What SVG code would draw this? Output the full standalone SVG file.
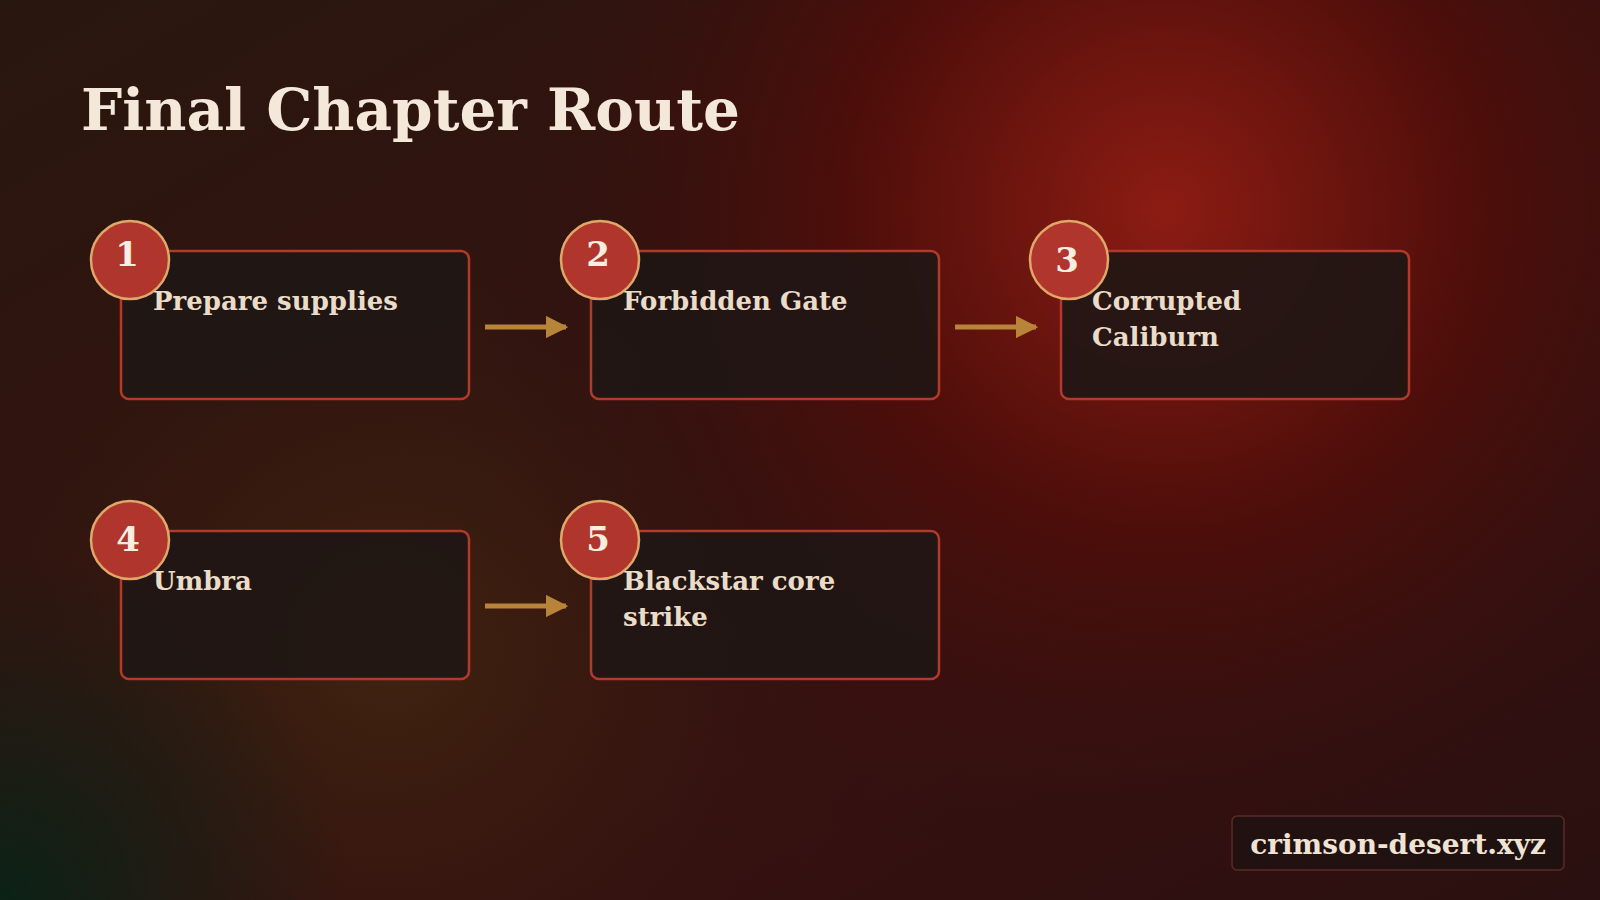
<svg xmlns="http://www.w3.org/2000/svg" width="1600" height="900" viewBox="0 0 1600 900">
<defs>
<radialGradient id="g1" cx="1165" cy="210" r="700" gradientUnits="userSpaceOnUse">
<stop offset="0" stop-color="#8c1c13"/><stop offset="0.45" stop-color="#4e0e0a"/><stop offset="1" stop-color="#2a1210" stop-opacity="0"/>
</radialGradient>
<radialGradient id="g2" cx="390" cy="650" r="500" gradientUnits="userSpaceOnUse">
<stop offset="0" stop-color="#41240f"/><stop offset="1" stop-color="#2a1510" stop-opacity="0"/>
</radialGradient>
<radialGradient id="g3" cx="0" cy="900" r="350" gradientUnits="userSpaceOnUse">
<stop offset="0" stop-color="#0b2216"/><stop offset="1" stop-color="#0b2216" stop-opacity="0"/>
</radialGradient>
<linearGradient id="bg" x1="0" y1="0" x2="1" y2="1">
<stop offset="0" stop-color="#28170e"/><stop offset="0.6" stop-color="#3a1010"/><stop offset="1" stop-color="#2a1010"/>
</linearGradient>
<marker id="ah" viewBox="0 0 10 10" refX="9" refY="5" markerWidth="4.5" markerHeight="4.5" orient="auto" markerUnits="strokeWidth"><path d="M0,0L10,5L0,10z" fill="#b8843a"/></marker>
<style>
.box{fill:#1f1614;fill-opacity:0.9;stroke:#b23a2a;stroke-width:2.5}
.c{fill:#b0352c;stroke:#e0a868;stroke-width:2.5}
.n{font-family:"DejaVu Serif","Liberation Serif",serif;font-weight:bold;font-size:34px;fill:#fbeee0;text-anchor:middle}
.t{font-family:"DejaVu Serif","Liberation Serif",serif;font-weight:bold;font-size:26px;fill:#eadcc8}
.ar{stroke:#b8843a;stroke-width:5;fill:none;marker-end:url(#ah)}
</style>
</defs>
<rect width="1600" height="900" fill="url(#bg)"/>
<rect width="1600" height="900" fill="url(#g2)"/>
<rect width="1600" height="900" fill="url(#g1)"/>
<rect width="1600" height="900" fill="url(#g3)"/>
<text x="81" y="130" font-family="DejaVu Serif, Liberation Serif, serif" font-weight="bold" font-size="58" fill="#f4e8da">Final Chapter Route</text>
<g id="connectors">
<line class="ar" x1="485" y1="327" x2="566" y2="327"/>
<line class="ar" x1="955" y1="327" x2="1036" y2="327"/>
<line class="ar" x1="485" y1="606" x2="566" y2="606"/>
</g>
<g id="n1"><rect class="box" x="121" y="251" width="348" height="148" rx="8"/><circle class="c" cx="130" cy="260" r="39"/><text class="n" x="127" y="266">1</text><text class="t" x="153" y="310">Prepare supplies</text></g>
<g id="n2"><rect class="box" x="591" y="251" width="348" height="148" rx="8"/><circle class="c" cx="600" cy="260" r="39"/><text class="n" x="598" y="266">2</text><text class="t" x="623" y="310">Forbidden Gate</text></g>
<g id="n3"><rect class="box" x="1061" y="251" width="348" height="148" rx="8"/><circle class="c" cx="1069" cy="260" r="39"/><text class="n" x="1067" y="272">3</text><text class="t" x="1092" y="310">Corrupted</text><text class="t" x="1092" y="346">Caliburn</text></g>
<g id="n4"><rect class="box" x="121" y="531" width="348" height="148" rx="8"/><circle class="c" cx="130" cy="540" r="39"/><text class="n" x="128" y="551">4</text><text class="t" x="153" y="590">Umbra</text></g>
<g id="n5"><rect class="box" x="591" y="531" width="348" height="148" rx="8"/><circle class="c" cx="600" cy="540" r="39"/><text class="n" x="598" y="551">5</text><text class="t" x="623" y="590">Blackstar core</text><text class="t" x="623" y="626">strike</text></g>
<g id="watermark"><rect x="1232" y="816" width="332" height="54" rx="5" fill="#1e1212" fill-opacity="0.85" stroke="#5a2a26" stroke-width="1.5"/><text x="1398" y="854" text-anchor="middle" font-family="DejaVu Serif, Liberation Serif, serif" font-weight="bold" font-size="28" fill="#f1e3d3">crimson-desert.xyz</text></g>
</svg>
